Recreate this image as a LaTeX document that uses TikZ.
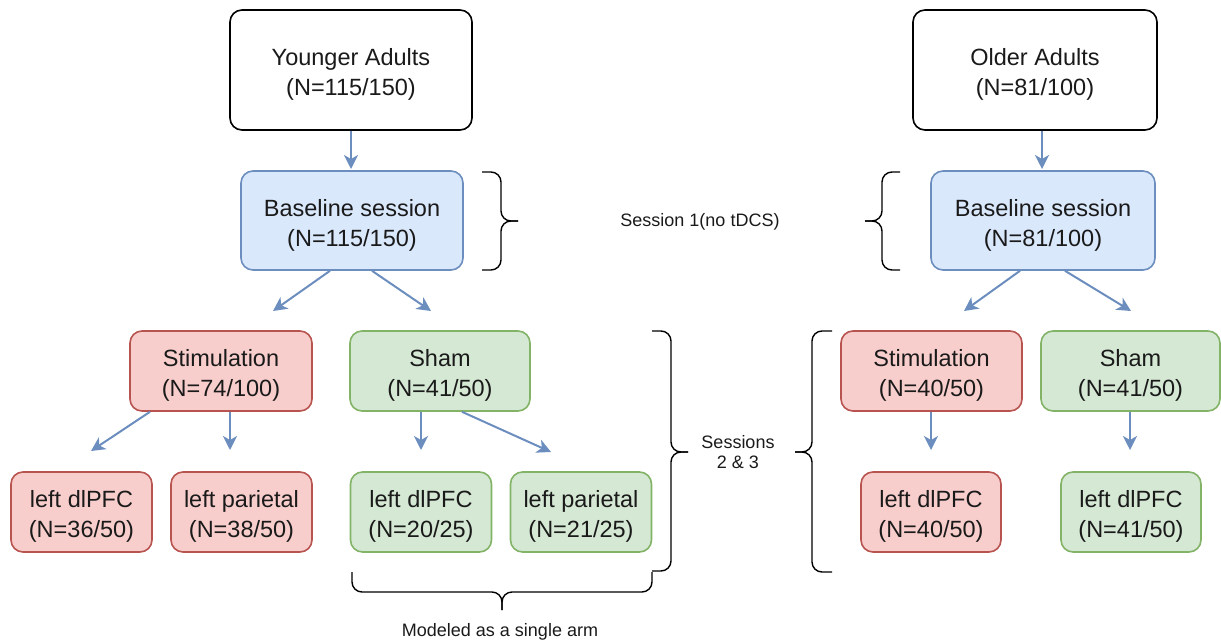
\documentclass[tikz,border=0pt]{standalone}
\usepackage{fontspec}
\setmainfont{Liberation Sans}
\usetikzlibrary{arrows.meta,calc}
\definecolor{bluefill}{HTML}{DAE8FC}
\definecolor{bluedraw}{HTML}{6C8EBF}
\definecolor{redfill}{HTML}{F8CECC}
\definecolor{reddraw}{HTML}{B85450}
\definecolor{greenfill}{HTML}{D5E8D4}
\definecolor{greendraw}{HTML}{82B366}
\definecolor{txt}{HTML}{1A1A1A}
\tikzset{
  box/.style={rounded corners=6pt, line width=0.8pt, align=center, inner sep=0pt,
    text=txt, font=\fontsize{11.75}{15}\selectfont, text height=28.4pt},
  plain/.style={box, draw=black, fill=white},
  bluebox/.style={box, draw=bluedraw, fill=bluefill},
  redbox/.style={box, draw=reddraw, fill=redfill},
  greenbox/.style={box, draw=greendraw, fill=greenfill},
  conn/.style={draw=bluedraw, line width=1pt, -{Stealth[length=7pt,width=7pt,inset=2pt]}},
  brace/.style={draw=black, line width=0.7pt, rounded corners=5pt},
  note/.style={text=txt, align=center, font=\fontsize{9}{10}\selectfont}
}
\begin{document}
\begin{tikzpicture}[x=0.5pt,y=-0.5pt]
\useasboundingbox (0,0) rectangle (1221,642);
% top
\node[plain, minimum width=121pt, minimum height=60pt] (ya) at (351,70) {Younger Adults\\(N=115/150)};
\node[plain, minimum width=122pt, minimum height=60pt] (oa) at (1035,70) {Older Adults\\(N=81/100)};
% baseline
\node[bluebox, minimum width=111pt, minimum height=49.5pt] (yb) at (352,220.5) {Baseline session\\(N=115/150)};
\node[bluebox, minimum width=112pt, minimum height=49.5pt] (ob) at (1043,220.5) {Baseline session\\(N=81/100)};
% arms
\node[redbox, minimum width=91pt, minimum height=40pt] (ys) at (221,371) {Stimulation\\(N=74/100)};
\node[greenbox, minimum width=90pt, minimum height=40pt] (yh) at (440,371) {Sham\\(N=41/50)};
\node[redbox, minimum width=90.5pt, minimum height=40pt] (os) at (931.5,371) {Stimulation\\(N=40/50)};
\node[greenbox, minimum width=89.5pt, minimum height=40pt] (oh) at (1130.5,371) {Sham\\(N=41/50)};
% bottom
\node[redbox, minimum width=70.5pt, minimum height=40pt] (ysd) at (81.5,512) {left dlPFC\\(N=36/50)};
\node[redbox, minimum width=70.5pt, minimum height=40pt] (ysp) at (241.5,512) {left parietal\\(N=38/50)};
\node[greenbox, minimum width=70.5pt, minimum height=40pt] (yhd) at (421,512) {left dlPFC\\(N=20/25)};
\node[greenbox, minimum width=70.5pt, minimum height=40pt] (yhp) at (581,512) {left parietal\\(N=21/25)};
\node[redbox, minimum width=70pt, minimum height=40pt] (osd) at (931,512) {left dlPFC\\(N=40/50)};
\node[greenbox, minimum width=70pt, minimum height=40pt] (ohd) at (1131,512) {left dlPFC\\(N=41/50)};
% arrow tips
\coordinate (t1) at (351,169);
\coordinate (t2) at (1042,169);
\coordinate (t3) at (273,311);
\coordinate (t4) at (431,311);
\coordinate (t5) at (964,311);
\coordinate (t6) at (1131,311);
\coordinate (t7) at (91,451);
\coordinate (t8) at (230,450);
\coordinate (t9) at (421,450);
\coordinate (t10) at (551,452);
\coordinate (t11) at (931,450);
\coordinate (t12) at (1130,450);
% connectors
\draw[conn] (ya.south) -- (t1);
\draw[conn] (oa.south -| t2) -- (t2);
\draw[conn] ($(yb.south)+(-22,0)$) -- (t3);
\draw[conn] ($(yb.south)+(20,0)$) -- (t4);
\draw[conn] ($(ob.south)+(-23,0)$) -- (t5);
\draw[conn] ($(ob.south)+(22,0)$) -- (t6);
\draw[conn] ($(ys.south)+(-71,0)$) -- (t7);
\draw[conn] (ys.south -| t8) -- (t8);
\draw[conn] (yh.south -| t9) -- (t9);
\draw[conn] ($(yh.south)+(22,0)$) -- (t10);
\draw[conn] (os.south -| t11) -- (t11);
\draw[conn] (oh.south -| t12) -- (t12);
% braces
\draw[brace] (482,172) -| (501,221) -- (518,221);
\draw[brace] (482,270) -| (501,221) -- (518,221);
\draw[brace] (900,172) -| (882,221) -- (865,221);
\draw[brace] (900,270) -| (882,221) -- (865,221);
\draw[brace] (652,331) -| (671,452) -- (688,452);
\draw[brace] (652,571) -| (671,452) -- (688,452);
\draw[brace] (832,331) -| (812,452) -- (795,452);
\draw[brace] (832,572) -| (812,452) -- (795,452);
\draw[brace] (352,572) |- (502,592) -- (502,610);
\draw[brace] (652,572) |- (502,592) -- (502,610);
% labels
\node[note] (s1) at (700,222) {Session 1(no tDCS)};
\node[note] (s23) at (738,452) {Sessions\\2 \& 3};
\node[note] (single) at (500,632) {Modeled as a single arm};
\end{tikzpicture}
\end{document}
